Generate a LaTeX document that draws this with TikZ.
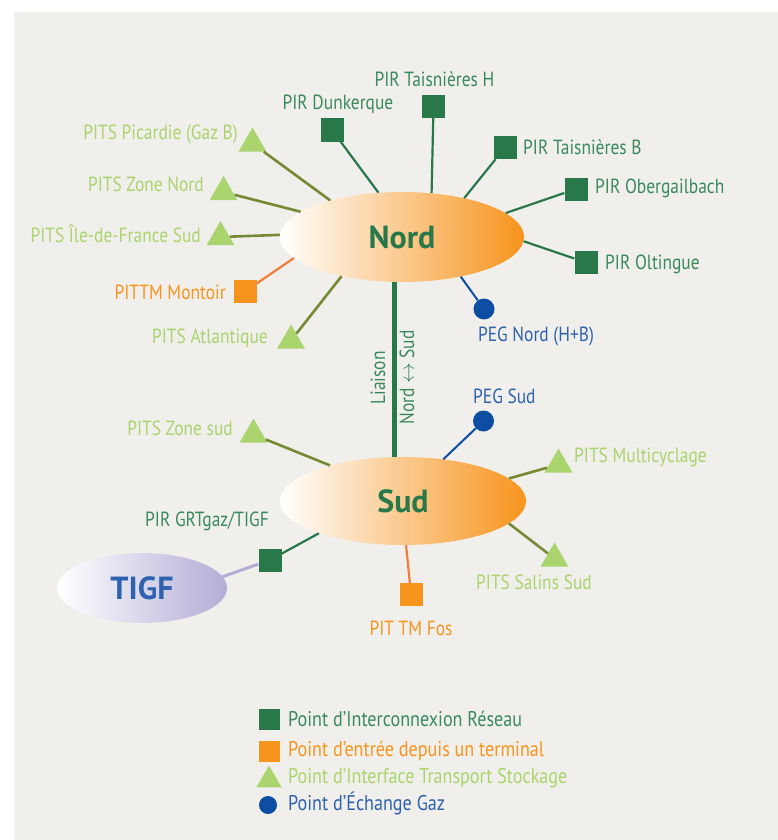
\documentclass[tikz,border=0pt]{standalone}
\usepackage{fontspec}
\setmainfont{PT Sans}[FakeStretch=0.85]
\newfontfamily\titlefont{PT Sans}
\usetikzlibrary{shapes.geometric}
\definecolor{bg}{HTML}{F0EFEB}
\definecolor{dgreen}{HTML}{28784A}
\definecolor{tgreen}{HTML}{3A8A5C}
\definecolor{lgreen}{HTML}{AAD46E}
\definecolor{olive}{HTML}{768A34}
\definecolor{orng}{HTML}{F7941D}
\definecolor{orline}{HTML}{F47C3A}
\definecolor{dblue}{HTML}{0D4EA2}
\definecolor{tblue}{HTML}{2F62AE}
\definecolor{lav}{HTML}{B2ADD6}
\begin{document}
\begin{tikzpicture}[x=1pt,y=-1pt,
  sq/.style={rectangle, inner sep=0pt, minimum size=23pt, fill=#1},
  tri/.style={regular polygon, regular polygon sides=3, inner sep=0pt, minimum size=32pt, fill=lgreen},
  pegdot/.style={circle, inner sep=0pt, minimum size=21pt, fill=dblue},
  lbl/.style={font=\fontsize{20.5}{24}\selectfont, text=#1, inner sep=0pt},
  leg/.style={font=\fontsize{21.3}{25}\selectfont, text=#1, inner sep=0pt, anchor=west},
  hub/.style={ellipse, inner sep=0pt, left color=white, right color=#1, font=\titlefont\bfseries\fontsize{32}{36}\selectfont},
  pirline/.style={draw=dgreen, line width=2.2pt},
  pitsline/.style={draw=olive, line width=2.6pt},
  orline/.style={draw=orline, line width=2.2pt},
  pegline/.style={draw=dblue, line width=2pt},
  lavline/.style={draw=lav, line width=3pt}
]
\fill[white] (0,0) rectangle (778,840);
\useasboundingbox (0,0) rectangle (778,840);
\fill[bg] (14,12) rectangle (778,840);

% hubs
\node[hub=orng, minimum width=244pt, minimum height=90pt, text=dgreen] (nord) at (402,237) {Nord};
\node[hub=orng, minimum width=246pt, minimum height=88pt, text=dgreen] (sud) at (403,501) {Sud};
\node[hub=lav, minimum width=170pt, minimum height=70pt, text=tblue] (tigf) at (142,588) {TIGF};

% markers
\node[sq=dgreen] (tH) at (433.5,106.5) {};
\node[sq=dgreen] (dunk) at (332,130) {};
\node[sq=dgreen] (tB) at (505,147.5) {};
\node[sq=dgreen] (ober) at (576,189) {};
\node[sq=dgreen] (olt) at (586,262.5) {};
\node[sq=orng] (mont) at (245,291.5) {};
\node[sq=orng] (fos) at (411,594.5) {};
\node[sq=dgreen] (grt) at (270,560) {};

\node[tri] (pic) at (252.5,143.5) {};
\node[tri] (zn) at (223.5,192) {};
\node[tri] (idf) at (220.5,237) {};
\node[tri] (atl) at (291,340.5) {};
\node[tri] (zs) at (253.5,434.5) {};
\node[tri] (multi) at (558.5,464.5) {};
\node[tri] (salins) at (554.5,558.5) {};

\node[pegdot] (pegN) at (484,309) {};
\node[pegdot] (pegS) at (483.5,421) {};

% connectors
\draw[pirline] (tH) -- (nord.56);
\draw[pirline] (dunk) -- (nord.118);
\draw[pirline] (tB) -- (nord.32);
\draw[pirline] (ober) -- (nord.13);
\draw[pirline] (olt) -- (nord.-2);
\draw[pegline] (pegN) -- (nord.-34);
\draw[pitsline] (pic) -- (nord.153);
\draw[pitsline] (zn) -- (nord.166);
\draw[pitsline] (idf) -- (nord.179);
\draw[orline] (mont) -- (nord.191);
\draw[pitsline] (atl) -- (nord.213);

\draw[pitsline] (zs) -- (sud.154);
\draw[pegline] (pegS) -- (sud.46);
\draw[pitsline] (multi) -- (sud.12);
\draw[pitsline] (salins) -- (sud.-12);
\draw[orline] (fos) -- (sud.-86);
\draw[pirline] (grt) -- (sud.201);
\draw[lavline] (grt) -- (tigf.8);

\coordinate (lx) at (394.5,380);
\draw[draw=dgreen, line width=4.5pt] (nord.south -| lx) -- (sud.north -| lx);

% labels
\node[lbl=tgreen] at (434.5,79) {PIR Taisnières H};
\node[lbl=tgreen] at (338,104) {PIR Dunkerque};
\node[lbl=tgreen, anchor=west] at (523,147) {PIR Taisnières B};
\node[lbl=tgreen, anchor=west] at (595,188) {PIR Obergailbach};
\node[lbl=tgreen, anchor=west] at (605,264) {PIR Oltingue};
\node[lbl=tblue] at (536,336) {PEG Nord (H+B)};
\node[lbl=lgreen, anchor=east] at (238,134) {PITS Picardie (Gaz B)};
\node[lbl=lgreen, anchor=east] at (204,184) {PITS Zone Nord};
\node[lbl=lgreen, anchor=east] at (201,234) {PITS Île-de-France Sud};
\node[lbl=orng, anchor=east] at (226,292) {PITTM Montoir};
\node[lbl=lgreen, anchor=east] at (268,338) {PITS Atlantique};
\node[lbl=lgreen, anchor=east] at (233,428) {PITS Zone sud};
\node[lbl=tblue, anchor=west] at (473,396) {PEG Sud};
\node[lbl=lgreen, anchor=west] at (574,457) {PITS Multicyclage};
\node[lbl=lgreen] at (534,582) {PITS Salins Sud};
\node[lbl=orng] at (411,628) {PIT TM Fos};
\node[lbl=tgreen] at (207,521) {PIR GRTgaz/TIGF};
\node[lbl=tgreen, rotate=90] at (378,378) {Liaison};
\node[lbl=tgreen, rotate=90] at (407,377.5) {Nord \(\leftrightarrow\) Sud};

% legend
\node[sq=dgreen, minimum size=21pt] (lg1) at (269,719) {};
\node[sq=orng, minimum size=21pt] (lg2) at (269,751) {};
\node[tri, minimum size=29pt] (lg3) at (269,780) {};
\node[pegdot, minimum size=18pt] (lg4) at (268,805) {};
\node[leg=tgreen] at (288,719) {Point d’Interconnexion Réseau};
\node[leg=orng] at (288,751) {Point d’entrée depuis un terminal};
\node[leg=lgreen] at (288,778) {Point d’Interface Transport Stockage};
\node[leg=tblue] at (288,803) {Point d’Échange Gaz};
\end{tikzpicture}
\end{document}
